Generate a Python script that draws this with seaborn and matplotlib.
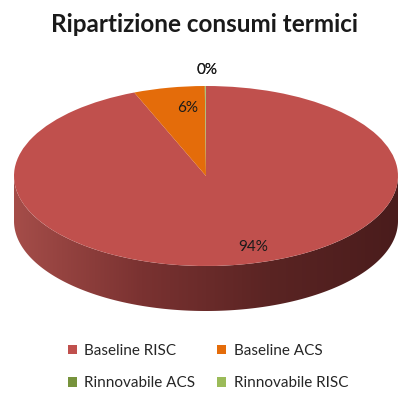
import numpy as np
import matplotlib
matplotlib.use("Agg")
import matplotlib.pyplot as plt
from matplotlib.patches import Polygon, Patch
from matplotlib.colors import LinearSegmentedColormap
import seaborn as sns

# Thermal consumption breakdown
categories = ["Baseline RISC", "Baseline ACS", "Rinnovabile ACS", "Rinnovabile RISC"]
values = [94.0, 6.0, 0.05, 0.05]
colors = ["#c0504d", "#e46c0a", "#77933c", "#9bbb59"]

sns.set_theme(style="white")
palette = sns.color_palette(colors)
plt.rcParams["font.family"] = ["Lato", "DejaVu Sans"]

W, H = 398, 394
fig = plt.figure(figsize=(W / 100, H / 100), dpi=100)
fig.patch.set_facecolor("white")

# pie axes: ellipse centre (206,176) px, semi-axes 192 x 90 px, side depth 45 px
cx, cy, a, b, depth = 206, 176, 192, 90, 45
top_px, bot_px = cy - b, cy + b + depth
ax = fig.add_axes([(cx - a) / W, (H - bot_px) / H, 2 * a / W, (bot_px - top_px) / H])
d = depth / b

# front side of the cylinder with a left-to-right shading
th = np.linspace(np.pi, 2 * np.pi, 300)
upper = np.column_stack([np.cos(th), np.sin(th)])
lower = np.column_stack([np.cos(th[::-1]), np.sin(th[::-1]) - d])
side = Polygon(np.vstack([upper, lower]), closed=True, facecolor="none", edgecolor="none")
ax.add_patch(side)
cmap = LinearSegmentedColormap.from_list("side", ["#a54d49", "#7a3231", "#5a2423", "#4a1c1c"])
grad = np.linspace(0, 1, 256).reshape(1, -1)
img = ax.imshow(grad, cmap=cmap, extent=[-1, 1, -1 - d, 0], aspect="auto", zorder=1)
img.set_clip_path(side)

wedges, _ = ax.pie(values, colors=palette, startangle=90, counterclock=False,
                   radius=1, center=(0, 0), frame=True,
                   wedgeprops=dict(linewidth=0, zorder=2))
ax.set_aspect("auto")
ax.set_xlim(-1, 1)
ax.set_ylim(-1 - d, 1)
ax.axis("off")

total = sum(values)
pct = [f"{v / total * 100:.0f}%" for v in values]
label_pos = [(0.245, -0.79), (-0.094, 0.756), (0.005, 1.18), (0.005, 1.18)]
for t, (x, y) in zip(pct, label_pos):
    ax.text(x, y, t, ha="center", va="center", fontsize=11, color="#1a1a1a", zorder=5)

fig.text(205 / W, 1 - 24 / H, "Ripartizione consumi termici", ha="center", va="center",
         fontsize=17.5, fontweight="bold", color="#1a1a1a")

# legend filled row by row: two entries per row
handles = [Patch(facecolor=c, edgecolor="none") for c in palette]
order = [0, 2, 1, 3]
fig.legend([handles[i] for i in order], [categories[i] for i in order], ncol=2,
           loc="center", bbox_to_anchor=(208 / W, 1 - 367 / H),
           frameon=False, fontsize=11, handlelength=0.6, handleheight=0.6,
           handletextpad=0.5, columnspacing=1.4, labelspacing=1.2)

fig.savefig("out.png", dpi=100)
